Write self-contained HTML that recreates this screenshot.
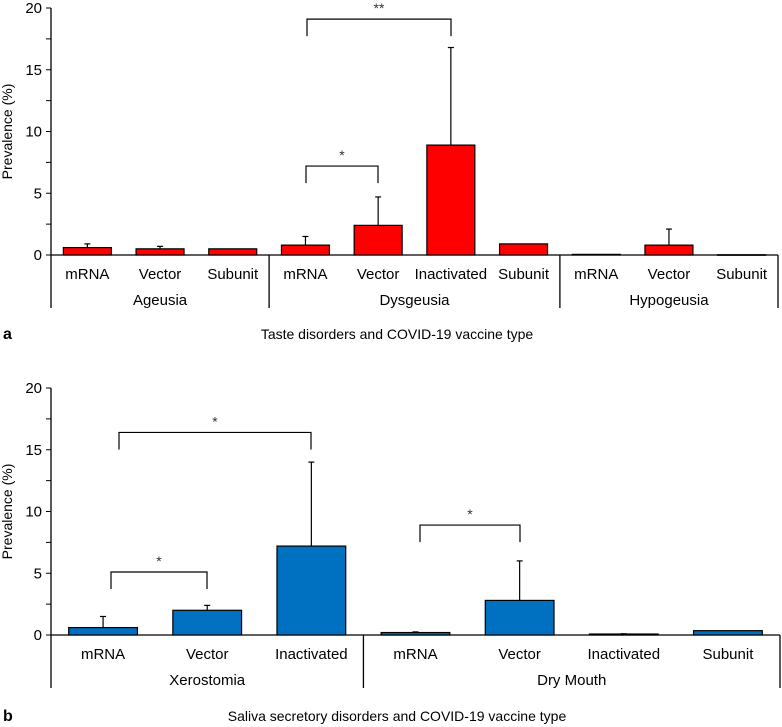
<!DOCTYPE html>
<html><head><meta charset="utf-8"><style>
html,body{margin:0;padding:0;background:#fff;}
svg{display:block;font-family:"Liberation Sans",Arial,sans-serif;}
</style></head><body>
<svg id="chart" width="782" height="727" viewBox="0 0 782 727" xmlns="http://www.w3.org/2000/svg"></svg>
<script>
// Panel a data
const catsA = ["mRNA","Vector","Subunit","mRNA","Vector","Inactivated","Subunit","mRNA","Vector","Subunit"];
const valsA = [0.6,0.5,0.5,0.8,2.4,8.9,0.9,0.05,0.8,0.02];
const errsA = [0.9,0.7,0.5,1.5,4.7,16.8,0.9,0.05,2.1,0.02];
const groupsA = ["Ageusia","Dysgeusia","Hypogeusia"];
const groupSizesA = [3,4,3];
// Panel b data
const catsB = ["mRNA","Vector","Inactivated","mRNA","Vector","Inactivated","Subunit"];
const valsB = [0.6,2.0,7.2,0.2,2.8,0.08,0.35];
const errsB = [1.5,2.4,14.0,0.25,6.0,0.1,0.35];
const groupsB = ["Xerostomia","Dry Mouth"];
const groupSizesB = [3,4];
const yTicks = [0,5,10,15,20];

const svg = document.getElementById('chart');
const NS = "http://www.w3.org/2000/svg";
function el(tag, attrs, parent){const e=document.createElementNS(NS,tag);for(const k in attrs)e.setAttribute(k,attrs[k]);(parent||svg).appendChild(e);return e;}
function txt(s, attrs, parent){const t=el('text',attrs,parent);t.textContent=s;return t;}

function panel(o){
  const g = el('g',{});
  
  
  const x0=51, x1=o.xEnd, y0=o.y0, scale=12.35;
  const y = v => y0 - v*scale;
  const band = (x1-x0)/o.cats.length;
  const xc = i => x0 + band*(i+0.5);
  const ax = el('line',{x1:x0,y1:y(20),x2:x0,y2:y0+53,stroke:'#000','stroke-width':1.3},g);
  
  
  for(let v=0; v<=20; v+=2.5){
    el('line',{x1:x0-5,y1:y(v),x2:x0,y2:y(v),stroke:'#000','stroke-width':1},g);
  }
  yTicks.forEach(v=>{
    const t=txt(String(v),{x:x0-9,y:y(v)+5,'text-anchor':'end','font-size':15},g);
    
    
  });
  const yt=txt('Prevalence (%)',{x:0,y:0,'font-size':14,'text-anchor':'middle',transform:`translate(12,${y(10)}) rotate(-90)`},g);
  
  
  const xa=el('line',{x1:x0,y1:y0,x2:x1,y2:y0,stroke:'#000','stroke-width':1.3},g);
  
  
  let idx=0;
  o.groupSizes.forEach((n,gi)=>{
    const start=idx; idx+=n;
    const xs=x0+band*idx;
    el('line',{x1:xs,y1:y0,x2:xs,y2:y0+53,stroke:'#000','stroke-width':1.3},g);
    const gl=txt(o.groups[gi],{x:x0+band*(start+n/2),y:y0+50,'text-anchor':'middle','font-size':15},g);
    
    
  });
  const bw=band*o.barFrac;
  o.cats.forEach((c,i)=>{
    const v=o.vals[i], e=o.errs[i];
    if(e>v){
      el('line',{x1:xc(i),y1:y(v),x2:xc(i),y2:y(e),stroke:'#000','stroke-width':1.2},g);
      el('line',{x1:xc(i)-3,y1:y(e),x2:xc(i)+3,y2:y(e),stroke:'#000','stroke-width':1.2},g);
    }
    const r=el('rect',{x:xc(i)-bw/2,y:y(v),width:bw,height:Math.max(v*scale,0.5),fill:o.color,stroke:'#000','stroke-width':1.2},g);
    
    
    const cl=txt(c,{x:xc(i),y:y0+24,'text-anchor':'middle','font-size':15},g);
    
    
  });
  o.brackets.forEach(b=>{
    const yy=y(b.level), yl=y(b.level)+17;
    const p=el('path',{d:`M${b.xa} ${yl} V${yy} H${b.xb} V${yl}`,fill:'none',stroke:'#000','stroke-width':1.2},g);
    
    
    const s=txt(b.mark,{x:(b.xa+b.xb)/2,y:yy-6,'text-anchor':'middle','font-size':14,fill:'#333'},g);
    
    
  });
  const pl=txt(o.letter,{x:3,y:o.capY,'font-size':16,'font-weight':'bold'},g);
  
  
  const cap=txt(o.caption,{x:397,y:o.capY,'text-anchor':'middle','font-size':14},g);
  
  
}

panel({name:'panel-a-taste',cats:catsA,vals:valsA,errs:errsA,groups:groupsA,groupSizes:groupSizesA,
  xEnd:778,y0:255,color:'#ff0000',barFrac:0.66,letter:'a',caption:'Taste disorders and COVID-19 vaccine type',capY:339,
  brackets:[{xa:307,xb:451,level:19.1,mark:'**'},{xa:306,xb:378,level:7.2,mark:'*'}]});
panel({name:'panel-b-saliva',cats:catsB,vals:valsB,errs:errsB,groups:groupsB,groupSizes:groupSizesB,
  xEnd:780,y0:635,color:'#0070c0',barFrac:0.66,letter:'b',caption:'Saliva secretory disorders and COVID-19 vaccine type',capY:721,
  brackets:[{xa:119,xb:311,level:16.4,mark:'*'},{xa:111,xb:207,level:5.1,mark:'*'},{xa:420,xb:520,level:8.9,mark:'*'}]});
</script>
</body></html>
